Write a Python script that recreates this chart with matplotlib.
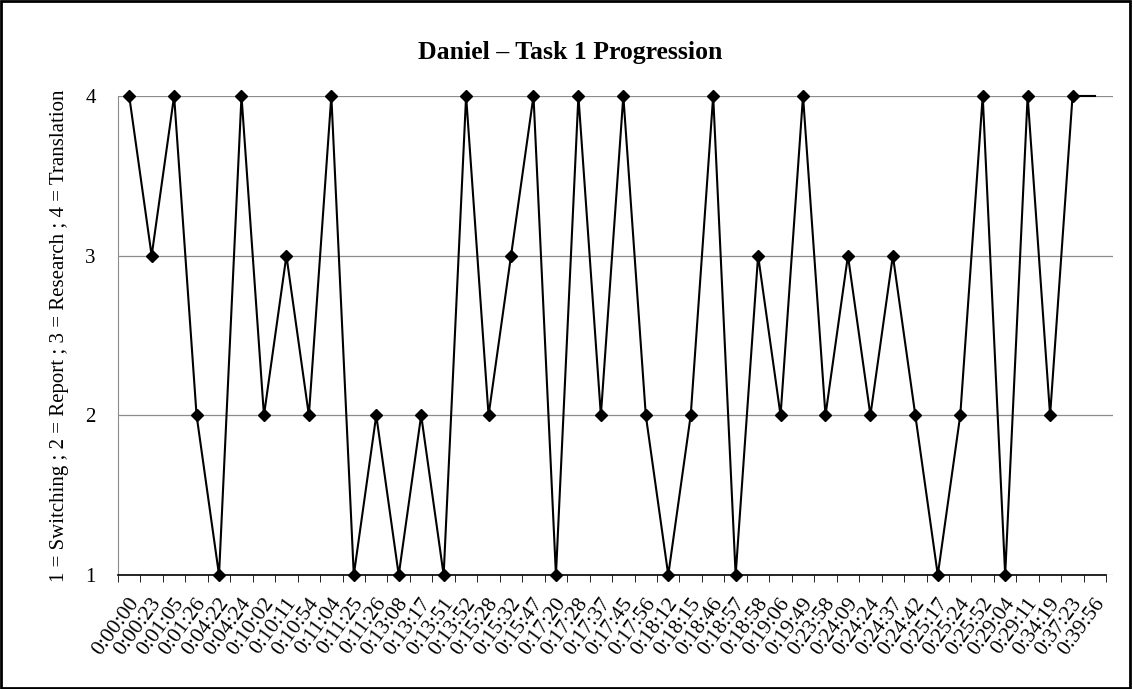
import matplotlib
matplotlib.use("Agg")
import matplotlib.pyplot as plt
import matplotlib.transforms as mtransforms
from matplotlib.patches import Rectangle
from matplotlib.ticker import FixedLocator

plt.rcParams["font.family"] = ["Liberation Serif", "DejaVu Serif"]

TIMES = ["0:00:00", "0:00:23", "0:01:05", "0:01:26", "0:04:22", "0:04:24",
         "0:10:02", "0:10:11", "0:10:54", "0:11:04", "0:11:25", "0:11:26",
         "0:13:08", "0:13:17", "0:13:51", "0:13:52", "0:15:28", "0:15:32",
         "0:15:47", "0:17:20", "0:17:28", "0:17:37", "0:17:45", "0:17:56",
         "0:18:12", "0:18:15", "0:18:46", "0:18:57", "0:18:58", "0:19:06",
         "0:19:49", "0:23:58", "0:24:09", "0:24:24", "0:24:37", "0:24:42",
         "0:25:17", "0:25:24", "0:25:52", "0:29:04", "0:29:11", "0:34:19",
         "0:37:23", "0:39:56"]

ACTIVITY = [4, 3, 4, 2, 1, 4, 2, 3, 2, 4, 1, 2, 1, 2, 1, 4, 2, 3, 4, 1, 4, 2,
            4, 2, 1, 2, 4, 1, 3, 2, 4, 2, 3, 2, 3, 2, 1, 2, 4, 1, 4, 2, 4, 4]

fig = plt.figure(figsize=(11.32, 6.89), dpi=100)
ax = fig.add_axes([0.1042, 0.1655, 0.8790, 0.6952])

x = list(range(len(TIMES)))
ax.plot(x, ACTIVITY, color="black", lw=1.5, marker="D", markersize=6,
        markevery=list(range(len(TIMES) - 1)), zorder=3, clip_on=False)

ax.set_xlim(-0.5, len(TIMES) - 0.5 + 0.3)
ax.set_ylim(1, 4)
ax.set_yticks([1, 2, 3, 4])
ax.tick_params(axis="y", length=0, pad=16, labelsize=15)
ax.yaxis.grid(True, color="#8c8c8c", lw=0.9)
ax.set_axisbelow(True)

# x ticks: labels at category centres, tick marks at boundaries
ax.xaxis.set_major_locator(FixedLocator(x))
ax.set_xticklabels(TIMES, rotation=54, ha="right", va="center",
                   rotation_mode="anchor", fontsize=15.5)
ax.tick_params(axis="x", which="major", length=0, pad=18)
shift = mtransforms.ScaledTranslation(6 / 100, 0, fig.dpi_scale_trans)
for lab in ax.get_xticklabels():
    lab.set_transform(lab.get_transform() + shift)
ax.xaxis.set_minor_locator(FixedLocator([i - 0.5 for i in range(len(TIMES) + 1)]))
ax.tick_params(axis="x", which="minor", length=5, direction="out", color="black")

for s in ["top", "right"]:
    ax.spines[s].set_visible(False)
ax.spines["left"].set_color("#8c8c8c")
ax.spines["bottom"].set_color("black")
ax.spines["bottom"].set_linewidth(1.2)
ax.spines["bottom"].set_bounds(-0.5, len(TIMES) - 0.5)

fig.text(0.5035, 0.9245, "Daniel \u2013 Task 1 Progression", fontsize=18.5,
         fontweight="bold", ha="center", va="center")
ax.set_ylabel("1 = Switching ; 2 = Report ; 3 = Research ; 4 = Translation",
              fontsize=15, labelpad=12)

fig.patches.append(Rectangle((0.001, 0.002), 0.997, 0.996, transform=fig.transFigure,
                             fill=False, edgecolor="black", lw=2))

fig.savefig("out.png", dpi=100)
